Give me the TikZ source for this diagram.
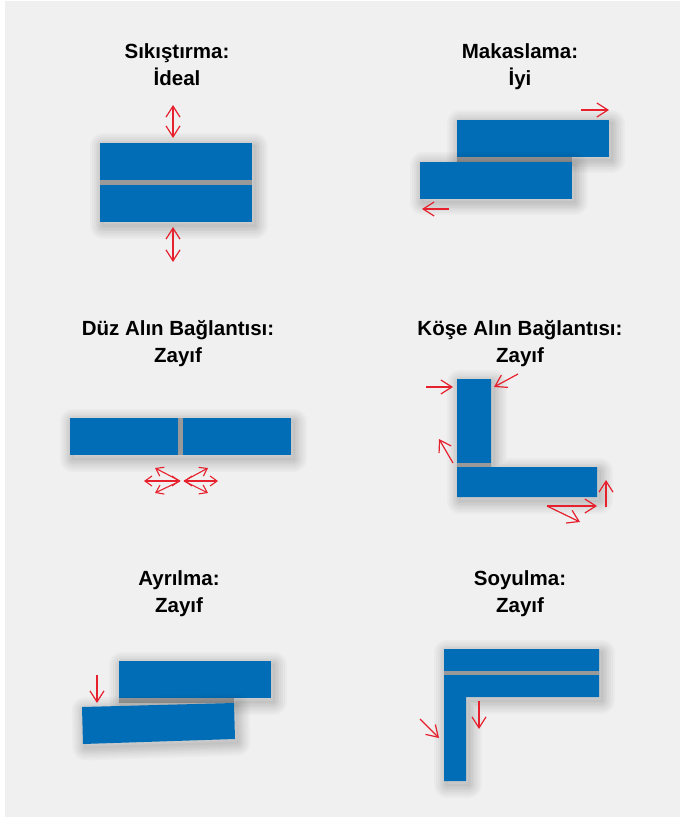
\documentclass[tikz,border=0pt]{standalone}
\usepackage{fontspec}
\newfontfamily\headfont{Liberation Sans}
\usetikzlibrary{arrows.meta}
\definecolor{panelgrey}{HTML}{F0F0F0}
\definecolor{plateblue}{HTML}{006DB6}
\definecolor{gluegrey}{HTML}{999999}
\definecolor{forcered}{HTML}{E6202D}
\tikzset{
  heading/.style={align=center, inner sep=0pt, anchor=base, font=\headfont\bfseries\fontsize{20.5}{27}\selectfont},
  haze/.style={draw=black, draw opacity=.024, line join=round,
    line width=#1, transform canvas={shift={(2.5pt,-3.5pt)}}},
  plate/.style={fill=plateblue, preaction={haze=26pt}, preaction={haze=22pt}, preaction={haze=18pt},
    preaction={haze=14pt}, preaction={haze=11pt}, preaction={haze=8pt}, preaction={haze=5pt},
    preaction={haze=2pt}},
  glue/.style={fill=gluegrey},
  force/.style={draw=forcered, line width=1.2pt, -{Straight Barb[length=11pt,width=14pt]}},
  forceboth/.style={draw=forcered, line width=1.2pt, {Straight Barb[length=11pt,width=14pt]}-{Straight Barb[length=11pt,width=14pt]}},
  smallforce/.style={draw=forcered, line width=1.1pt, -{Straight Barb[length=7pt,width=10pt]}},
  smallboth/.style={draw=forcered, line width=1.1pt, {Straight Barb[length=7pt,width=10pt]}-{Straight Barb[length=7pt,width=10pt]}}
}
\begin{document}
\begin{tikzpicture}[x=1pt, y=-1pt]
\useasboundingbox (0,0) rectangle (680,818);
\fill[white] (0,0) rectangle (680,818);
\fill[panelgrey] (5,1) rectangle (680,817);

% headings
\node[heading] (compress) at (177,86) {Sıkıştırma:\\İdeal};
\node[heading] (shear) at (520,86) {Makaslama:\\İyi};
\node[heading] (butt) at (178,362) {Düz Alın Bağlantısı:\\Zayıf};
\node[heading] (corner) at (520,362) {Köşe Alın Bağlantısı:\\Zayıf};
\node[heading] (cleave) at (179,612) {Ayrılma:\\Zayıf};
\node[heading] (peel) at (520,612) {Soyulma:\\Zayıf};

% compression
\fill[plate] (100,143) rectangle (252,222);
\fill[glue] (100,180) rectangle (252,185);
\draw[forceboth] (173,105) -- (173,138);
\draw[forceboth] (173,227) -- (173,262);

% shear
\fill[plate] (457,120) rectangle (609,157);
\fill[glue] (457,157) rectangle (572,162);
\fill[plate] (420,162) rectangle (572,199);
\draw[force] (581,110) -- (609,110);
\draw[force] (449,209) -- (422,209);

% butt joint
\fill[plate] (70,418) rectangle (291,455);
\fill[glue] (178,418) rectangle (183,455);
\draw[smallboth] (180,481) -- (144,481);
\draw[smallforce] (180,481) -- (155,468);
\draw[smallforce] (180,481) -- (155,493);
\draw[smallboth] (184,481) -- (218,481);
\draw[smallforce] (184,481) -- (208,468);
\draw[smallforce] (184,481) -- (208,493);

% corner butt joint
\fill[plate] (457,379) -- (491,379) -- (491,467) -- (597,467) -- (597,497) -- (457,497) -- cycle;
\fill[glue] (457,463) rectangle (491,467);
\draw[force] (426,387) -- (453,387);
\draw[force] (518,374) -- (494,387);
\draw[force] (453,463) -- (439,439);
\draw[force] (606,507) -- (606,480);
\draw[force] (547,506) -- (597,506);
\draw[force] (547,506) -- (580,522);

% cleavage
\fill[plate] (119,661) rectangle (271,698);
\fill[glue] (119,698) rectangle (234,703);
\fill[plate] (82,707) -- (234,703) -- (235,739) -- (83,744) -- cycle;
\draw[force] (97,675) -- (97,703);

% peel
\fill[plate] (444,649) -- (599,649) -- (599,697) -- (466,697) -- (466,781) -- (444,781) -- cycle;
\fill[glue] (444,671) rectangle (599,675);
\draw[force] (479,701) -- (479,729);
\draw[force] (420,719) -- (439,738);
\end{tikzpicture}
\end{document}
